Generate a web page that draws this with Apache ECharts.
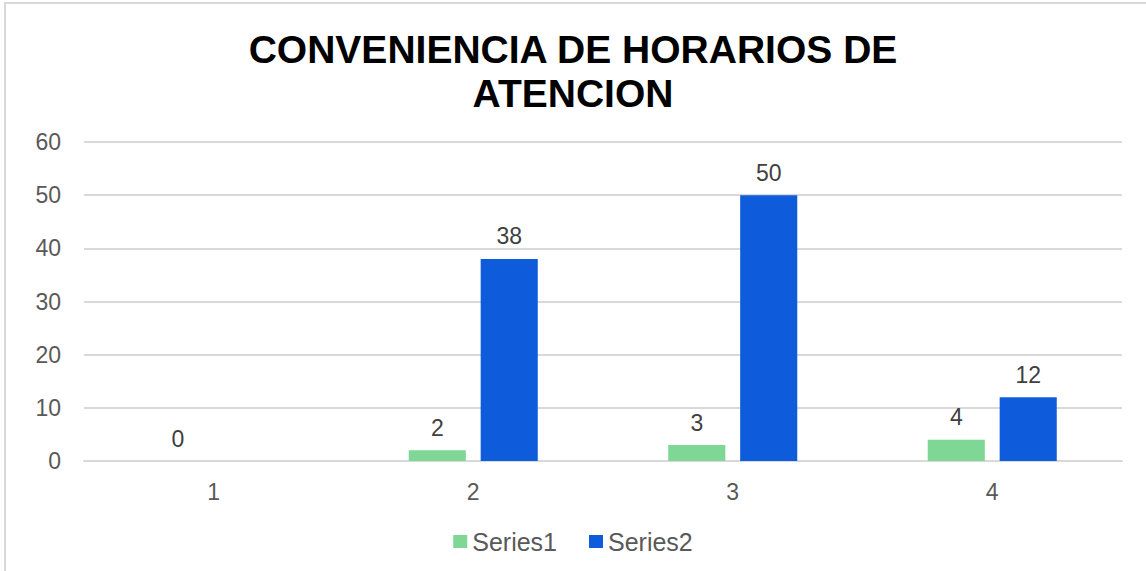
<!DOCTYPE html>
<html>
<head>
<meta charset="utf-8">
<script src="https://cdn.jsdelivr.net/npm/echarts@6/dist/echarts.min.js"></script>
<style>
  html, body { margin: 0; padding: 0; background: #fff; }
  #chart { width: 1146px; height: 571px; }
</style>
</head>
<body>
<div id="chart"></div>
<script>
(function() {
  var categories = ['1', '2', '3', '4'];
  var series1 = [0, 2, 3, 4];
  var series2 = [null, 38, 50, 12];
  var yTicks = { min: 0, max: 60, interval: 10 };

  var green = '#7ed795';
  var blue = '#0e5bdb';
  var grid = '#d9d9d9';
  var muted = '#595959';
  var font = '"Liberation Sans", Arial, sans-serif';

  var valueLabel = {
    show: true,
    position: 'top',
    distance: 11,
    color: '#404040',
    fontSize: 23,
    fontFamily: font
  };

  var chart = echarts.init(document.getElementById('chart'), null, { renderer: 'svg' });
  chart.setOption({
    animation: false,
    backgroundColor: '#fff',
    graphic: [{
      type: 'rect',
      shape: { x: 5, y: 3, width: 1150, height: 580 },
      style: { fill: 'none', stroke: '#d9d9d9', lineWidth: 2 },
      silent: true
    }],
    title: {
      text: 'CONVENIENCIA DE HORARIOS DE\nATENCION',
      left: 'center',
      top: 22,
      textStyle: {
        fontFamily: font,
        fontWeight: 'bold',
        fontSize: 39,
        lineHeight: 44,
        color: '#000'
      }
    },
    legend: {
      data: ['Series1', 'Series2'],
      bottom: 12,
      left: 'center',
      itemWidth: 14,
      itemHeight: 13,
      itemGap: 32,
      icon: 'rect',
      textStyle: { color: muted, fontSize: 25, fontFamily: font }
    },
    grid: { left: 84, right: 24, top: 142, bottom: 110 },
    xAxis: {
      type: 'category',
      data: categories,
      axisLine: { show: true, lineStyle: { color: grid, width: 2 } },
      axisTick: { show: false },
      axisLabel: { color: muted, fontSize: 23, fontFamily: font, margin: 19 }
    },
    yAxis: {
      type: 'value',
      min: yTicks.min,
      max: yTicks.max,
      interval: yTicks.interval,
      axisLine: { show: false },
      axisTick: { show: false },
      splitLine: { lineStyle: { color: grid, width: 2 } },
      axisLabel: { color: muted, fontSize: 23, fontFamily: font, margin: 23 }
    },
    series: [
      {
        name: 'Series1',
        type: 'bar',
        data: series1,
        barWidth: '22%',
        barGap: '26%',
        itemStyle: { color: green },
        label: valueLabel
      },
      {
        name: 'Series2',
        type: 'bar',
        data: series2,
        barWidth: '22%',
        itemStyle: { color: blue },
        label: valueLabel
      }
    ]
  });
  window.addEventListener('resize', function() { chart.resize(); });
})();
</script>
</body>
</html>
